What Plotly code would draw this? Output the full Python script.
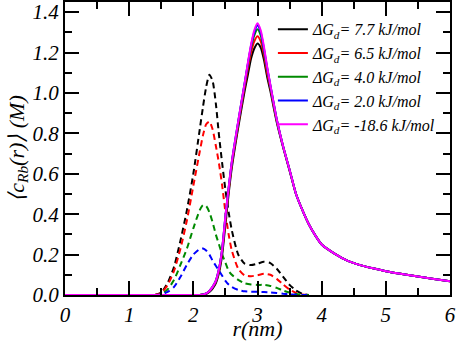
import plotly.graph_objects as go

# ---- data ----
r_solid = [0.0, 2.0, 2.1, 2.2, 2.25, 2.3, 2.35, 2.4, 2.45, 2.5, 2.55, 2.6, 2.7, 2.8, 2.85, 2.9,
           2.95, 3.0, 3.05, 3.1, 3.15, 3.2, 3.3, 3.4, 3.5, 3.6, 3.7, 3.8, 3.9, 4.0, 4.2, 4.4,
           4.6, 4.8, 5.0, 5.25, 5.5, 5.75, 6.0]
solid_black = [0.0, 0.0, 0.0, 0.005, 0.015, 0.032, 0.058, 0.11, 0.2, 0.35, 0.5, 0.63, 0.83, 1.01, 1.09, 1.17,
               1.22, 1.245, 1.225, 1.165, 1.08, 1.01, 0.855, 0.73, 0.615, 0.5, 0.42, 0.35, 0.295, 0.25, 0.205, 0.17,
               0.148, 0.132, 0.118, 0.104, 0.091, 0.079, 0.068]
solid_red = [0.0, 0.0, 0.0, 0.007, 0.018, 0.037, 0.065, 0.12, 0.22, 0.37, 0.515, 0.645, 0.845, 1.03, 1.12, 1.2,
             1.255, 1.28, 1.255, 1.19, 1.10, 1.025, 0.862, 0.733, 0.618, 0.5, 0.42, 0.35, 0.295, 0.25, 0.205, 0.17,
             0.148, 0.132, 0.118, 0.104, 0.091, 0.079, 0.068]
solid_green = [0.0, 0.0, 0.0, 0.008, 0.02, 0.04, 0.07, 0.13, 0.23, 0.385, 0.525, 0.655, 0.855, 1.045, 1.14, 1.225,
               1.285, 1.315, 1.285, 1.21, 1.12, 1.035, 0.867, 0.735, 0.62, 0.5, 0.42, 0.35, 0.295, 0.25, 0.205, 0.17,
               0.148, 0.132, 0.118, 0.104, 0.091, 0.079, 0.068]
solid_blue = [0.0, 0.0, 0.0, 0.008, 0.02, 0.04, 0.07, 0.13, 0.23, 0.39, 0.53, 0.66, 0.86, 1.05, 1.145, 1.235,
              1.3, 1.335, 1.3, 1.22, 1.125, 1.04, 0.87, 0.735, 0.62, 0.5, 0.42, 0.35, 0.295, 0.25, 0.205, 0.17,
              0.148, 0.132, 0.118, 0.104, 0.091, 0.079, 0.068]
solid_magenta = [0.0, 0.0, 0.0, 0.008, 0.02, 0.04, 0.07, 0.13, 0.23, 0.39, 0.53, 0.66, 0.86, 1.05, 1.15, 1.24,
                 1.31, 1.345, 1.31, 1.23, 1.13, 1.04, 0.87, 0.735, 0.62, 0.5, 0.42, 0.35, 0.295, 0.25, 0.205, 0.17,
                 0.148, 0.132, 0.118, 0.104, 0.091, 0.079, 0.068]

r_dash = [1.4, 1.5, 1.6, 1.7, 1.8, 1.9, 2.0, 2.1, 2.15, 2.2, 2.25, 2.3, 2.35, 2.4, 2.45, 2.5, 2.55,
          2.6, 2.7, 2.8, 2.9, 3.0, 3.1, 3.2, 3.3, 3.4, 3.5, 3.6, 3.7, 3.8]
dash_black = [0.0, 0.012, 0.06, 0.14, 0.27, 0.42, 0.6, 0.82, 0.93, 1.03, 1.09, 1.06, 0.95, 0.79, 0.65, 0.52, 0.41,
              0.32, 0.2, 0.155, 0.148, 0.155, 0.165, 0.158, 0.13, 0.09, 0.05, 0.022, 0.006, 0.0]
dash_red = [0.0, 0.01, 0.05, 0.12, 0.23, 0.37, 0.54, 0.71, 0.79, 0.845, 0.858, 0.82, 0.74, 0.65, 0.54, 0.41, 0.3,
            0.22, 0.13, 0.097, 0.093, 0.098, 0.105, 0.1, 0.08, 0.052, 0.027, 0.01, 0.002, 0.0]
dash_green = [0.0, 0.005, 0.028, 0.075, 0.15, 0.23, 0.33, 0.42, 0.445, 0.44, 0.41, 0.36, 0.3, 0.25, 0.2, 0.16, 0.12,
              0.1, 0.075, 0.058, 0.052, 0.05, 0.05, 0.045, 0.035, 0.022, 0.012, 0.005, 0.001, 0.0]
dash_blue = [0.0, 0.003, 0.015, 0.04, 0.09, 0.15, 0.2, 0.228, 0.23, 0.22, 0.2, 0.17, 0.145, 0.12, 0.095, 0.07, 0.052,
             0.04, 0.025, 0.018, 0.016, 0.016, 0.015, 0.013, 0.01, 0.006, 0.003, 0.001, 0.0, 0.0]

legend_labels = ["<i>ΔG<sub>d</sub>= 7.7 kJ/mol</i>", "<i>ΔG<sub>d</sub>= 6.5 kJ/mol</i>",
                 "<i>ΔG<sub>d</sub>= 4.0 kJ/mol</i>", "<i>ΔG<sub>d</sub>= 2.0 kJ/mol</i>",
                 "<i>ΔG<sub>d</sub>= -18.6 kJ/mol</i>"]
colors = ["#000000", "#ff0000", "#008a00", "#0000ff", "#ff00ff"]

x_ticks = [0, 1, 2, 3, 4, 5, 6]
y_ticks = [0.0, 0.2, 0.4, 0.6, 0.8, 1.0, 1.2, 1.4]

FONT = "Liberation Serif"

fig = go.Figure()
for ys, c in zip([dash_black, dash_red, dash_green, dash_blue], colors[:4]):
    fig.add_trace(go.Scatter(x=r_dash, y=ys, mode="lines", showlegend=False,
                             line=dict(color=c, width=2, dash="6px,4px", shape="spline", smoothing=0.6)))
for ys, c, lab in zip([solid_black, solid_red, solid_green, solid_blue, solid_magenta], colors, legend_labels):
    fig.add_trace(go.Scatter(x=r_solid, y=ys, mode="lines", name=lab,
                             line=dict(color=c, width=2, shape="spline", smoothing=0.6)))

tickfont = dict(family=FONT, size=21, color="black")

fig.update_xaxes(range=[0, 6], tickmode="array", tickvals=x_ticks,
                 ticktext=[f"<i>{v}</i>" for v in x_ticks],
                 showline=True, linewidth=2, linecolor="#000000", mirror="allticks",
                 ticks="inside", ticklen=14, tickwidth=2, tickcolor="#000000",
                 minor=dict(ticks="inside", ticklen=7, tickwidth=2, tickmode="linear", tick0=0, dtick=0.5,
                            tickcolor="#000000", showgrid=False),
                 showgrid=False, zeroline=False, tickfont=tickfont, layer="above traces",
                 title=dict(text="<i>r(nm)</i>", font=dict(family=FONT, size=22, color="black"),
                            standoff=0))
fig.update_yaxes(range=[0, 1.45], tickmode="array", tickvals=y_ticks,
                 ticktext=[f"<i>{v:.1f}</i>" for v in y_ticks],
                 showline=True, linewidth=2, linecolor="#000000", mirror="allticks",
                 ticks="inside", ticklen=14, tickwidth=2, tickcolor="#000000",
                 minor=dict(ticks="inside", ticklen=7, tickwidth=2, tickmode="linear", tick0=0, dtick=0.1,
                            tickcolor="#000000", showgrid=False),
                 showgrid=False, zeroline=False, tickfont=tickfont, layer="above traces",
                 title=dict(text="<i>⟨c<sub>Rb</sub>(r)⟩ (M)</i>",
                            font=dict(family=FONT, size=22, color="black"), standoff=2))

fig.update_layout(width=457, height=341, margin=dict(l=65, r=7, t=2, b=46, autoexpand=False),
                  font=dict(family=FONT, color="black"),
                  template="none",
                  plot_bgcolor="white", paper_bgcolor="white",
                  legend=dict(x=0.54, y=0.965, xanchor="left", yanchor="top",
                              bgcolor="rgba(0,0,0,0)", borderwidth=0,
                              font=dict(family=FONT, size=16, color="black"),
                              tracegroupgap=0))

fig.write_html("out.html", config={"displayModeBar": False, "staticPlot": True},
               post_script="document.body.style.margin='0px';")
